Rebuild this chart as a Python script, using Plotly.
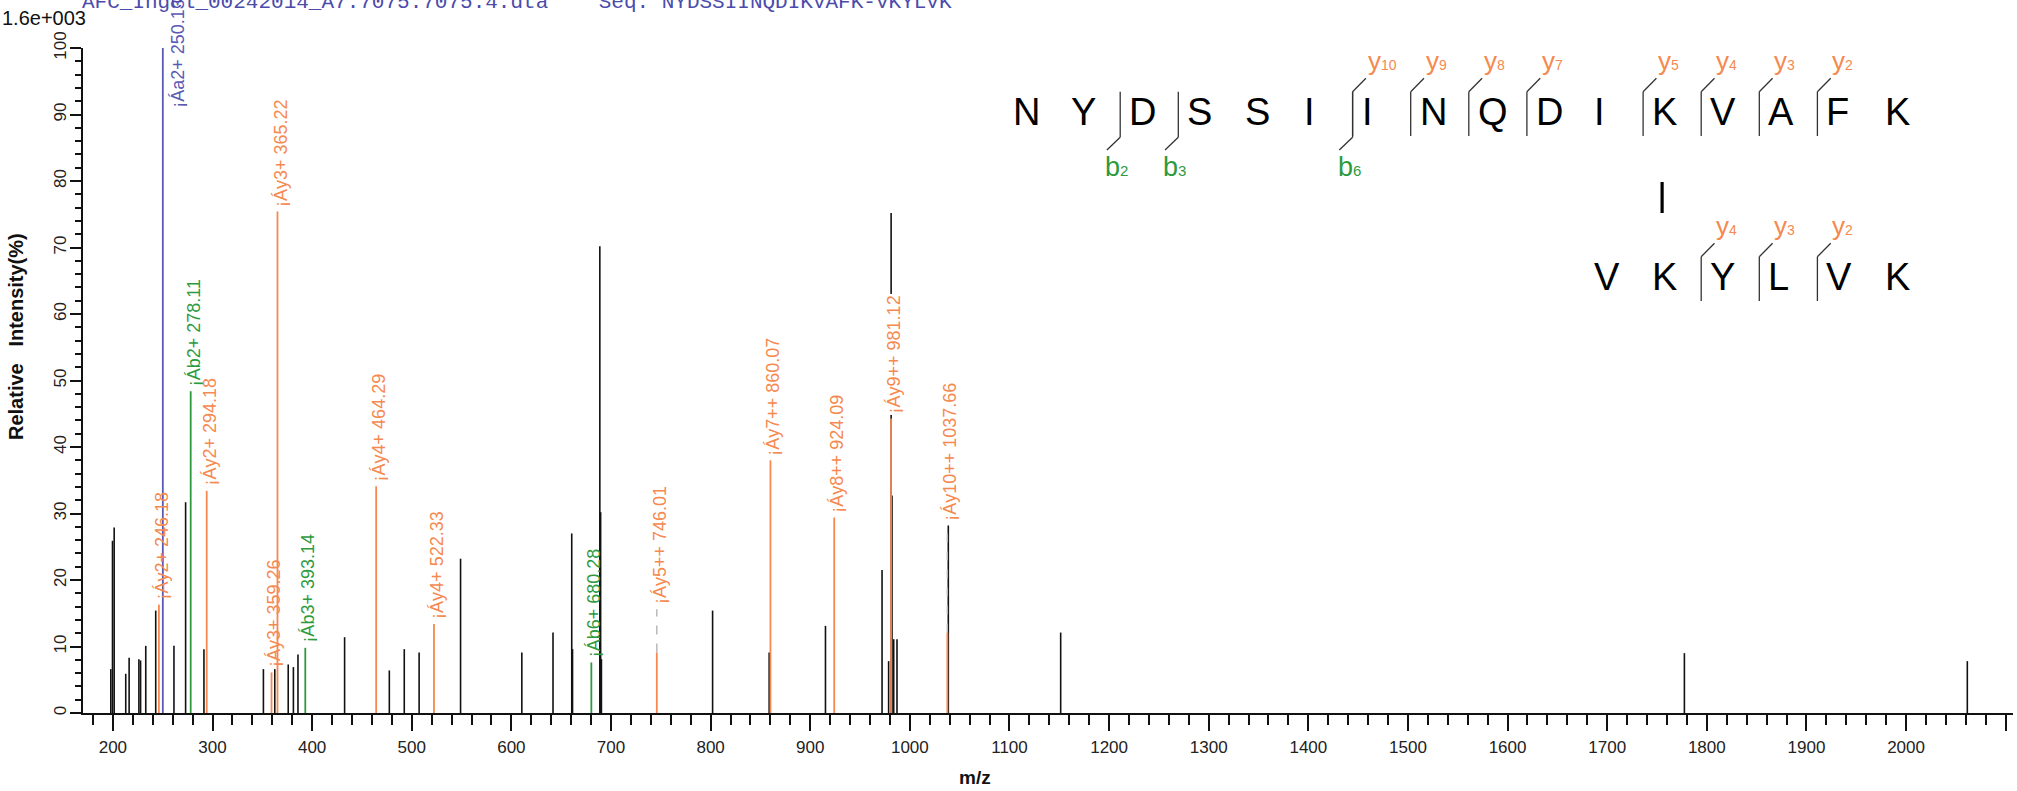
import plotly.graph_objects as go

# ---- spectrum values (m/z, relative intensity %) ----
peak_mz = [197.9, 199.6, 201.3, 212.9, 216.3, 226.1, 227.8, 233.0, 243.0, 261.3,
           273.0, 291.4, 351.1, 362.5, 376.0, 381.2, 385.8, 432.6, 477.5, 492.5,
           507.4, 549.0, 610.5, 641.8, 660.6, 661.4, 688.8, 689.6, 690.4, 802.0,
           858.8, 915.3, 972.1, 978.7, 981.2, 982.1, 983.8, 987.1, 1038.6, 1151.4,
           1777.5, 2061.5]
peak_int = [6.6, 25.9, 27.9, 5.9, 8.3, 8.1, 7.9, 10.1, 15.4, 10.1,
            31.7, 9.6, 6.6, 6.6, 7.3, 6.9, 8.8, 11.4, 6.4, 9.6,
            9.1, 23.2, 9.1, 12.1, 27.0, 9.6, 70.2, 30.2, 8.1, 15.4,
            9.1, 13.1, 21.5, 7.8, 75.2, 32.7, 11.1, 11.1, 28.2, 12.1,
            9.0, 7.8]

# matched fragment ions
ion_mz = [246.18, 250.13, 278.11, 294.18, 359.26, 365.22, 393.14, 464.29,
          522.33, 680.28, 746.01, 860.07, 924.09, 981.12, 1037.66]
ion_int = [16.3, 100.0, 48.4, 33.4, 6.1, 75.4, 9.8, 34.1,
           13.4, 7.6, 9.1, 38.0, 29.4, 44.3, 12.1]
ion_type = ['y2+', 'a2+', 'b2+', 'y2+', 'y3+', 'y3+', 'b3+', 'y4+',
            'y4+', 'b6+', 'y5++', 'y7++', 'y8++', 'y9++', 'y10++']
ion_label_at = [16.3, 90.3, 48.4, 33.4, 6.1, 75.4, 9.8, 34.1,
                13.4, 7.6, 15.6, 38.0, 29.4, 44.3, 28.2]

# cross-linked peptides
pep1 = 'NYDSSIINQDIKVAFK'
pep2 = 'VKYLVK'
link1, link2 = 12, 2
pep1_b = [2, 3, 6]
pep1_y = [10, 9, 8, 7, 5, 4, 3, 2]
pep2_y = [4, 3, 2]

spectrum_file = 'AFC_Ingel_00242014_A7.7075.7075.4.dta'
max_abs = '1.6e+003'

# ---- geometry ----
W, H = 2017, 791
ML, MR, MT, MB = 83, 4, 48, 78
PW, PH = W - ML - MR, H - MT - MB
X0 = 170
X1 = X0 + PW / 0.9962

ORANGE = '#f5894f'
GREEN = '#2e9a3e'
BLUE = '#5a5ab4'
INK = '#111111'
FONT = 'Liberation Sans, Arial, sans-serif'


def px(x):
    return (x - ML) / PW


def py(y):
    return (H - MB - y) / PH


def sticks(mz, lo, hi):
    xs, ys = [], []
    for m, a, b in zip(mz, lo, hi):
        xs += [m, m, None]
        ys += [a, b, None]
    return xs, ys


fig = go.Figure()

bx, by = sticks(peak_mz, [0] * len(peak_mz), peak_int)
fig.add_trace(go.Scatter(x=bx, y=by, mode='lines', line=dict(color=INK, width=1.6),
                         hoverinfo='skip', showlegend=False))

ion_color = {'y': ORANGE, 'b': GREEN, 'a': BLUE}
for t, col in ion_color.items():
    sel = [i for i, n in enumerate(ion_type) if n[0] == t]
    xs, ys = sticks([ion_mz[i] for i in sel], [0] * len(sel), [ion_int[i] for i in sel])
    fig.add_trace(go.Scatter(x=xs, y=ys, mode='lines', line=dict(color=col, width=1.8),
                             hoverinfo='skip', showlegend=False))

# dashed leaders to labels that were lifted above their peak
lead = [i for i in range(len(ion_mz)) if ion_label_at[i] > ion_int[i]]
xs, ys = sticks([ion_mz[i] for i in lead], [ion_int[i] for i in lead], [ion_label_at[i] for i in lead])
fig.add_trace(go.Scatter(x=xs, y=ys, mode='lines', line=dict(color='#b4b4b4', width=1.4, dash='dash'),
                         hoverinfo='skip', showlegend=False))

for m, h, t, at in zip(ion_mz, ion_int, ion_type, ion_label_at):
    covered = any(abs(pm - m) < 2 and pi > at + 1 for pm, pi in zip(peak_mz, peak_int))
    beside = at < h
    fig.add_annotation(x=m, y=at, xref='x', yref='y', text='¡Á%s %.2f' % (t, m),
                       textangle=-90, showarrow=False, xanchor='center', yanchor='bottom',
                       xshift=15 if beside else 3, yshift=3,
                       font=dict(family=FONT, size=18, color=ion_color[t[0]]),
                       bgcolor='white' if covered else 'rgba(0,0,0,0)')

# ---- peptide fragmentation map ----
CELL0, CELL = 1015, 58.1
ROW1, ROW2 = 112, 277
off2 = link1 - link2
shapes = []


def seg(x0, y0, x1, y1, w=1.3, c='#333333'):
    shapes.append(dict(type='line', xref='paper', yref='paper', x0=px(x0), y0=py(y0),
                       x1=px(x1), y1=py(y1), line=dict(color=c, width=w)))


def cell_x(k):
    return CELL0 + k * CELL


def letters(seq, start, row):
    for i, ch in enumerate(seq):
        fig.add_annotation(x=px(cell_x(start + i) - 4), y=py(row), xref='paper', yref='paper',
                           text=ch, showarrow=False, xanchor='left', yanchor='middle',
                           font=dict(family=FONT, size=38, color='#000000'))


def y_marks(ions, start, length, row):
    for n in ions:
        xs = cell_x(start + length - n) - 11
        seg(xs, row + 24, xs, row - 20.3)
        seg(xs, row - 20.3, xs + 13.3, row - 33.7)
        fig.add_annotation(x=px(xs + 13), y=py(row - 51), xref='paper', yref='paper',
                           text='y<span style="font-size:14px">%d</span>' % n, showarrow=False,
                           xanchor='left', yanchor='middle',
                           font=dict(family=FONT, size=26, color=ORANGE))


def b_marks(ions, start, row):
    for n in ions:
        xs = cell_x(start + n) - 11
        seg(xs, row - 20.3, xs, row + 25.3)
        seg(xs, row + 25.3, xs - 13.3, row + 38)
        fig.add_annotation(x=px(xs - 17), y=py(row + 55), xref='paper', yref='paper',
                           text='b<span style="font-size:15px">%d</span>' % n, showarrow=False,
                           xanchor='left', yanchor='middle',
                           font=dict(family=FONT, size=27, color=GREEN))


letters(pep1, 0, ROW1)
letters(pep2, off2, ROW2)
y_marks(pep1_y, 0, len(pep1), ROW1)
b_marks(pep1_b, 0, ROW1)
y_marks(pep2_y, off2, len(pep2), ROW2)
lx = cell_x(link1 - 1) + 8
seg(lx, ROW1 + 70, lx, ROW2 - 64, w=3.2, c='#000000')

# ---- texts around the axes ----
fig.add_annotation(x=px(80), y=py(3), xref='paper', yref='paper',
                   text=spectrum_file + '\u00a0' * 4 + 'Seq: ' + pep1 + '-' + pep2,
                   showarrow=False, xanchor='left', yanchor='middle',
                   font=dict(family='Liberation Mono, Courier New, monospace', size=21, color='#4b4bab'))
fig.add_annotation(x=px(0), y=py(18), xref='paper', yref='paper', text=max_abs,
                   showarrow=False, xanchor='left', yanchor='middle',
                   font=dict(family=FONT, size=20, color=INK))
fig.add_annotation(x=px(16), y=py(337), xref='paper', yref='paper',
                   text='<b>Relative\u00a0\u00a0\u00a0Intensity(%)</b>', textangle=-90,
                   showarrow=False, xanchor='center', yanchor='middle',
                   font=dict(family=FONT, size=20, color=INK))
fig.add_annotation(x=px(975), y=py(777), xref='paper', yref='paper', text='<b>m/z</b>',
                   showarrow=False, xanchor='center', yanchor='middle',
                   font=dict(family=FONT, size=19, color=INK))

axis_common = dict(showgrid=False, zeroline=False, showline=True, linecolor=INK, linewidth=2,
                   ticks='outside', tickwidth=1.6, tickcolor=INK,
                   tickfont=dict(family=FONT, size=17, color='#222222'))
fig.update_layout(
    width=W, height=H,
    margin=dict(l=ML, r=MR, t=MT, b=MB, autoexpand=False),
    paper_bgcolor='white', plot_bgcolor='white', showlegend=False,
    shapes=shapes,
    xaxis=dict(range=[X0, X1], dtick=100, tick0=0, ticklen=16, ticklabelstandoff=2,
               minor=dict(ticks='outside', ticklen=10, tickwidth=1.6, tickcolor=INK, dtick=20, tick0=0),
               **axis_common),
    yaxis=dict(range=[0, 100], dtick=10, tick0=0, ticklen=11, tickangle=-90, ticklabelstandoff=-3,
               minor=dict(ticks='outside', ticklen=6, tickwidth=1.6, tickcolor=INK, dtick=2, tick0=0),
               **axis_common),
)

fig.write_html('out.html', config={'displayModeBar': False},
               post_script="document.body.style.margin='0';")
